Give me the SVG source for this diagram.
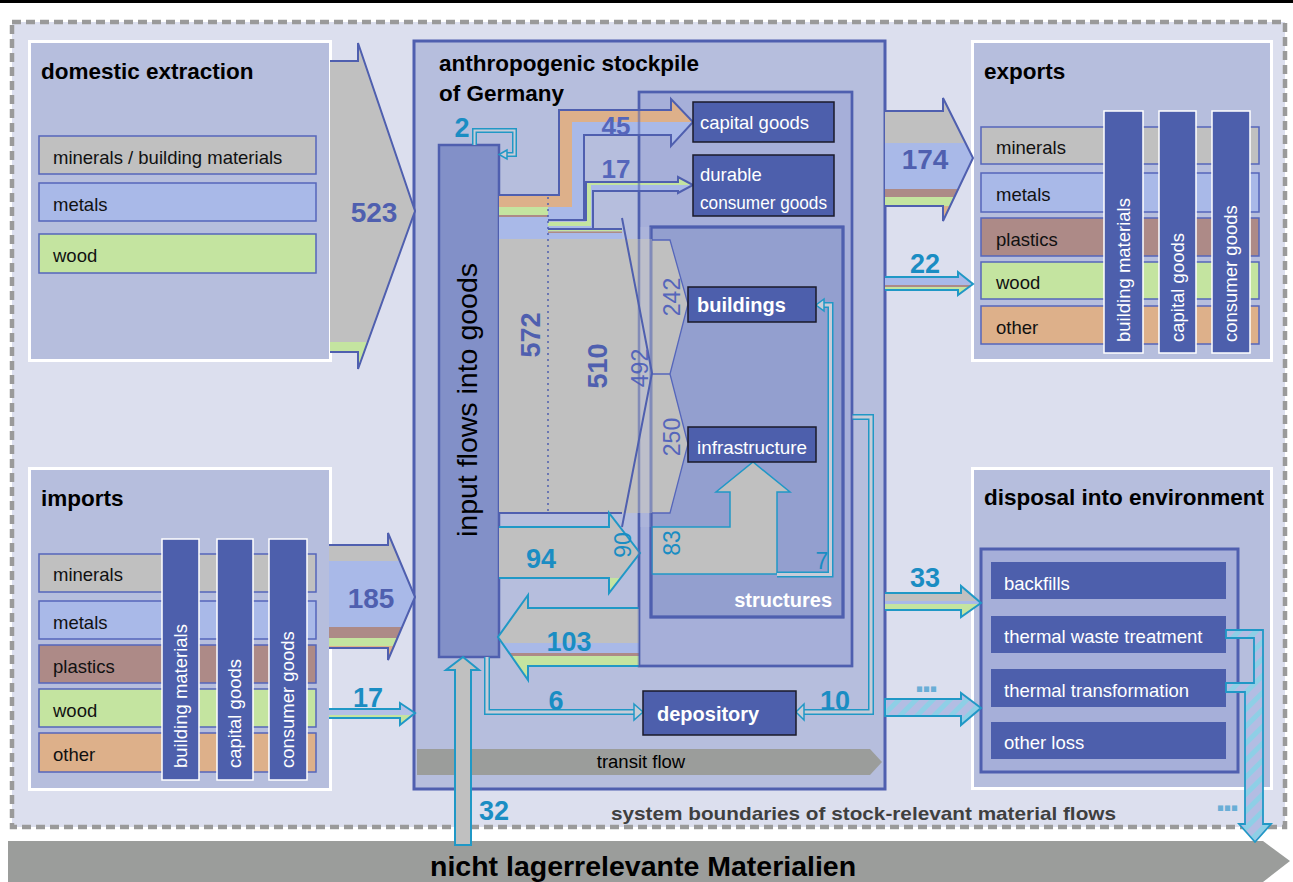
<svg xmlns="http://www.w3.org/2000/svg" width="1293" height="882" viewBox="0 0 1293 882">
<defs>
<style>
text{font-family:"Liberation Sans",Arial,sans-serif}
.title{font-size:22.5px;font-weight:bold;fill:#000}
.row{font-size:18.5px;fill:#111}
.rowbox{stroke:#5566BB;stroke-width:1.5}
.panel{fill:#B6BEDD;stroke:#fff;stroke-width:3}
.gry{fill:#C0C0C0}.blu{fill:#A9B9E8}.grn{fill:#C4E4A0}.brn{fill:#AD8A87}.org{fill:#DDB08A}
.node{fill:#4D5FAC;stroke:#1a1a2a;stroke-width:1.5}
.nodetxt{fill:#fff;font-size:18.5px}
.nodebold{fill:#fff;font-size:20px;font-weight:bold}
.vbar{fill:#4D5FAC;stroke:#fff;stroke-width:1.5}
.vtxt{fill:#fff;font-size:18.5px}
.numb{font-weight:bold;font-size:28px;fill:#4F5FAF;text-anchor:middle}
.numb2{font-weight:bold;font-size:26px;fill:#5566BB;text-anchor:middle}
.numt{font-weight:bold;font-size:27px;fill:#1A8DC3;text-anchor:middle}
.numi{font-size:23px;fill:#5566BB;text-anchor:middle}
.numti{font-size:23px;fill:#1A8DC3;text-anchor:middle}
.bout{fill:none;stroke:#4F5FAF;stroke-width:2;stroke-linejoin:miter}
.bthin{fill:none;stroke:#5566BB;stroke-width:1.3}
.tout{fill:none;stroke:#2098C6;stroke-width:2}
.dl1{fill:none;stroke:#2098C6;stroke-width:6}
.dl2{fill:none;stroke:#C8CCD8;stroke-width:3}
.dl1s{fill:none;stroke:#2098C6;stroke-width:5}
.dl2s{fill:none;stroke:#C8CCD8;stroke-width:2}
.ahead{fill:#C8CCD8;stroke:#2098C6;stroke-width:1.5}
.dots{font-weight:bold;font-size:36px;fill:#6AAED6;letter-spacing:-3px;text-anchor:middle}
</style>
<pattern id="hatch" patternUnits="userSpaceOnUse" width="12" height="12" patternTransform="rotate(45)">
<rect width="12" height="12" fill="#B3BDE3"/>
<rect width="5" height="12" fill="#8ECFE6"/>
</pattern>
<clipPath id="c523"><path d="M330,61 H358 V43 L415,211 L358,369 V352 H330 Z"/></clipPath>
<clipPath id="c185"><path d="M329,545 H388 V533 L415,597 L388,660 V648 H329 Z"/></clipPath>
<clipPath id="c17i"><path d="M329,709 H400 V703 L415,713 L400,725 V718 H329 Z"/></clipPath>
<clipPath id="c174"><path d="M885,111 H943 V98 L973,158 L943,221 V206 H885 Z"/></clipPath>
<clipPath id="c22"><path d="M885,277 H958 V272 L973,284 L958,295 V290 H885 Z"/></clipPath>
<clipPath id="c33"><path d="M885,593 H961 V586 L981,603 L961,617 V610 H885 Z"/></clipPath>
<clipPath id="c94"><path d="M499,527 H609 V513 L640,553 L609,593 V578 H499 Z"/></clipPath>
<clipPath id="c103"><path d="M639,608 H528 V595 L498,637 L528,680 V666 H639 Z"/></clipPath>
</defs>

<rect width="1293" height="882" fill="#fff"/>
<rect x="0" y="0" width="1293" height="3" fill="#000"/>

<g id="system-boundary">
<rect x="12" y="22" width="1273" height="805" fill="#DCDFEE" stroke="#9A9A9A" stroke-width="4.5" stroke-dasharray="9,5"/>
<text x="611" y="820" font-size="19" font-weight="bold" fill="#3F3F3F" textLength="505" lengthAdjust="spacingAndGlyphs">system boundaries of stock-relevant material flows</text>
</g>

<g id="non-stock-materials">
<path d="M8,841 H1263 L1290,861 L1263,882 H8 Z" fill="#9B9D9B"/>
<text x="430" y="876" font-size="28.5" font-weight="bold" fill="#000">nicht lagerrelevante Materialien</text>
</g>

<g id="domestic-extraction">
<rect class="panel" x="29.5" y="41.5" width="301" height="319"/>
<text class="title" x="41" y="79">domestic extraction</text>
<rect class="gry rowbox" x="39" y="136" width="277" height="38"/>
<text class="row" x="53" y="164">minerals / building materials</text>
<rect class="blu rowbox" x="39" y="183" width="277" height="38"/>
<text class="row" x="53" y="211">metals</text>
<rect class="grn rowbox" x="39" y="234" width="277" height="39"/>
<text class="row" x="53" y="262">wood</text>
</g>

<g id="imports">
<rect class="panel" x="29.5" y="468.5" width="301" height="321"/>
<text class="title" x="41" y="506">imports</text>
<rect class="gry rowbox" x="39" y="554" width="277" height="38"/>
<text class="row" x="53" y="581">minerals</text>
<rect class="blu rowbox" x="39" y="601" width="277" height="38"/>
<text class="row" x="53" y="629">metals</text>
<rect class="brn rowbox" x="39" y="645" width="277" height="38"/>
<text class="row" x="53" y="673">plastics</text>
<rect class="grn rowbox" x="39" y="689" width="277" height="38"/>
<text class="row" x="53" y="717">wood</text>
<rect class="org rowbox" x="39" y="733" width="277" height="39"/>
<text class="row" x="53" y="761">other</text>
<rect class="vbar" x="162" y="539" width="37" height="241"/>
<text class="vtxt" transform="translate(187,768) rotate(-90)">building materials</text>
<rect class="vbar" x="217" y="539" width="36" height="241"/>
<text class="vtxt" transform="translate(241,768) rotate(-90)">capital goods</text>
<rect class="vbar" x="269" y="539" width="38" height="241"/>
<text class="vtxt" transform="translate(294,768) rotate(-90)">consumer goods</text>
</g>

<g id="exports">
<rect class="panel" x="972.5" y="41.5" width="299" height="319"/>
<text class="title" x="984" y="79">exports</text>
<rect class="gry rowbox" x="981" y="127" width="278" height="37"/>
<text class="row" x="996" y="154">minerals</text>
<rect class="blu rowbox" x="981" y="173" width="278" height="39"/>
<text class="row" x="996" y="201">metals</text>
<rect class="brn rowbox" x="981" y="218" width="278" height="38"/>
<text class="row" x="996" y="246">plastics</text>
<rect class="grn rowbox" x="981" y="262" width="278" height="37"/>
<text class="row" x="996" y="289">wood</text>
<rect class="org rowbox" x="981" y="306" width="278" height="38"/>
<text class="row" x="996" y="334">other</text>
<rect class="vbar" x="1104" y="111" width="39" height="242"/>
<text class="vtxt" transform="translate(1130,342) rotate(-90)">building materials</text>
<rect class="vbar" x="1159" y="111" width="37" height="242"/>
<text class="vtxt" transform="translate(1184,342) rotate(-90)">capital goods</text>
<rect class="vbar" x="1212" y="111" width="38" height="242"/>
<text class="vtxt" transform="translate(1237,342) rotate(-90)">consumer goods</text>
</g>

<g id="disposal">
<rect class="panel" x="972.5" y="468.5" width="299" height="320"/>
<text class="title" x="984" y="505">disposal into environment</text>
<rect x="981" y="549" width="257" height="223" fill="#A6AFD9" stroke="#4F5FAF" stroke-width="3"/>
<rect x="991" y="562" width="235" height="37" fill="#4D5FAC"/>
<text class="nodetxt" x="1004" y="590">backfills</text>
<rect x="991" y="616" width="235" height="37" fill="#4D5FAC"/>
<text class="nodetxt" x="1004" y="643">thermal waste treatment</text>
<rect x="991" y="669" width="235" height="38" fill="#4D5FAC"/>
<text class="nodetxt" x="1004" y="697">thermal transformation</text>
<rect x="991" y="722" width="235" height="37" fill="#4D5FAC"/>
<text class="nodetxt" x="1004" y="749">other loss</text>
</g>

<g id="stockpile">
<rect x="414" y="41" width="471" height="748" fill="#B6BEDD" stroke="#4F5FAF" stroke-width="3"/>
<text class="title" x="439" y="71">anthropogenic stockpile</text>
<text class="title" x="439" y="101">of Germany</text>
</g>

<g id="goods-stock">
<rect x="639" y="92" width="213" height="574" fill="#A6AFD9" stroke="#4F5FAF" stroke-width="2.5"/>
</g>

<g id="structures">
<rect x="651" y="227" width="192" height="390" fill="#939FCF" stroke="#4F5FAF" stroke-width="3"/>
<text class="nodebold" x="832" y="607" text-anchor="end">structures</text>
</g>

<g id="transit-flow">
<path d="M417,749 H870 L882,762 L870,775 H417 Z" fill="#9B9D9B"/>
<text x="641" y="768" font-size="18.5" fill="#000" text-anchor="middle">transit flow</text>
</g>

<g id="input-flows">
<rect x="439" y="145" width="60" height="512" fill="#8290C8" stroke="#4F5FAF" stroke-width="2.5"/>
<text transform="translate(477,400) rotate(-90)" font-size="28.5" fill="#000" text-anchor="middle">input flows into goods</text>
</g>

<g id="connectors">
<g clip-path="url(#c523)"><rect x="328" y="40" width="90" height="302" class="gry"/><rect x="328" y="342" width="90" height="30" class="grn"/></g>
<path class="bout" d="M330,61 H358 V43 L415,211 L358,369 V352 H330"/>
<text class="numb" x="374" y="222">523</text>

<g clip-path="url(#c185)"><rect x="328" y="530" width="90" height="31" class="gry"/><rect x="328" y="561" width="90" height="66" class="blu"/><rect x="328" y="627" width="90" height="11" class="brn"/><rect x="328" y="638" width="90" height="8" class="grn"/><rect x="328" y="646" width="90" height="16" class="org"/></g>
<path class="bout" d="M329,545 H388 V533 L415,597 L388,660 V648 H329"/>
<text class="numb" x="371" y="608">185</text>

<g clip-path="url(#c17i)"><rect x="328" y="700" width="90" height="15" fill="#B4C0E6"/><rect x="328" y="715" width="90" height="12" class="grn"/></g>
<path class="tout" d="M329,709 H400 V703 L415,713 L400,725 V718 H329"/>
<text class="numt" x="368" y="707">17</text>

<g clip-path="url(#c174)"><rect x="884" y="95" width="92" height="48" class="gry"/><rect x="884" y="143" width="92" height="46" class="blu"/><rect x="884" y="189" width="92" height="8" class="brn"/><rect x="884" y="197" width="92" height="9" class="grn"/><rect x="884" y="206" width="92" height="18" class="org"/></g>
<path class="bout" d="M885,111 H943 V98 L973,158 L943,221 V206 H885"/>
<text class="numb" x="925" y="169">174</text>

<g clip-path="url(#c22)"><rect x="884" y="270" width="92" height="15" class="blu"/><rect x="884" y="285" width="92" height="2" class="brn"/><rect x="884" y="287" width="92" height="10" class="grn"/></g>
<path class="tout" d="M885,277 H958 V272 L973,284 L958,295 V290 H885"/>
<text class="numt" x="925" y="273">22</text>

<g clip-path="url(#c33)"><rect x="884" y="584" width="100" height="17" class="gry"/><rect x="884" y="601" width="100" height="3" class="blu"/><rect x="884" y="604" width="100" height="16" class="grn"/></g>
<path class="tout" d="M885,593 H961 V586 L981,603 L961,617 V610 H885"/>
<text class="numt" x="925" y="587">33</text>

<path d="M885,699 H961 V693 L981,708 L961,725 V716 H885 Z" fill="url(#hatch)" stroke="#2098C6" stroke-width="2"/>
<text class="dots" x="925" y="692">...</text>

<path d="M1226,630 H1263 V824 H1271 L1255,842 L1239,824 H1245 V692 H1226 V683 H1254 V638 H1226 Z" fill="url(#hatch)" stroke="#2098C6" stroke-width="1.8"/>
<text class="dots" x="1226" y="811">...</text>

<rect x="499" y="195" width="60" height="12" class="org"/>
<rect x="499" y="207" width="49" height="8" class="grn"/>
<rect x="499" y="215" width="49" height="2" class="brn"/>
<rect x="499" y="217" width="49" height="22" class="blu"/>
<rect x="548" y="229" width="74" height="2.5" class="grn"/>
<rect x="548" y="231.5" width="74" height="1.5" class="brn"/>
<rect x="548" y="233" width="74" height="6" class="blu"/>

<path class="org" d="M499,195 H559 V110 H671 V99 L693,122 H572 V207 H499 Z"/>
<path class="blu" d="M548,207 H572 V122 H693 L671,146 V135 H584 V220 H548 Z"/>
<path class="bout" d="M499,195 H559 V110 H671 V99 L693,122 L671,146 V135 H584 V220 H548"/>
<text class="numb2" x="616" y="135">45</text>

<path class="grn" d="M548,222 H586 V182 H678 V177 L693,185 H591 V226 H548 Z"/>
<path class="blu" d="M548,226 H591 V185 H693 L678,193 V191 H593 V229 H548 Z"/>
<path class="bout" d="M586,221 V182 H678 V177 L693,185 L678,193 V191 H593 V229 H548"/>
<text class="numb2" x="616" y="178">17</text>

<rect x="499" y="239" width="153" height="274" class="gry"/>
<path class="gry" d="M652,240 H670 L688,304 L670,374 H652 Z"/>
<path class="gry" d="M652,374 H670 L688,444 L670,513 H652 Z"/>
<rect x="640" y="227" width="11" height="300" fill="#B6BEDD" opacity="0.35"/>
<path class="bthin" d="M652,240 H670 L688,304 L670,374 H652 M670,374 L688,444 L670,513 H652"/>
<path class="bout" d="M548,229 H622 M622,218 L652,373 L622,527 M499,513 H622"/>
<line x1="548" y1="197" x2="548" y2="511" stroke="#4F5FAF" stroke-width="1.5" stroke-dasharray="2,4"/>
<text class="numb" transform="translate(540,335) rotate(-90)" font-size="30" textLength="45" lengthAdjust="spacingAndGlyphs">572</text>
<text class="numb" transform="translate(607,366) rotate(-90)" font-size="30" textLength="45" lengthAdjust="spacingAndGlyphs">510</text>
<text class="numi" transform="translate(648,368) rotate(-90)">492</text>
<text class="numi" transform="translate(680,297) rotate(-90)">242</text>
<text class="numi" transform="translate(680,437) rotate(-90)">250</text>

<g clip-path="url(#c94)"><rect x="498" y="510" width="145" height="68" class="gry"/><rect x="498" y="578" width="145" height="18" class="grn"/></g>
<path class="tout" d="M499,527 H609 V513 L640,553 L609,593 V578 H499"/>
<text class="numt" x="541" y="568">94</text>
<text class="numti" transform="translate(631,545) rotate(-90)">90</text>

<path d="M652,527 H730 V492 H716 L753,462 L790,492 H777 V574 H652 Z" fill="#C0C0C0" stroke="#2098C6" stroke-width="1.5"/>
<text class="numti" transform="translate(680,543) rotate(-90)">83</text>

<path class="dl1" d="M777,574.5 H830.5 V305 H823"/>
<path class="dl2" d="M777,574.5 H830.5 V305 H823"/>
<polygon class="ahead" points="824,299 816,305 824,311"/>
<text class="numti" x="822" y="569">7</text>

<g clip-path="url(#c103)"><rect x="495" y="592" width="146" height="51" class="gry"/><rect x="495" y="643" width="146" height="10" class="blu"/><rect x="495" y="653" width="146" height="3" class="brn"/><rect x="495" y="656" width="146" height="27" class="grn"/></g>
<path class="tout" d="M639,608 H528 V595 L498,637 L528,680 V666 H639"/>
<text class="numt" x="569" y="651">103</text>

<path class="dl1s" d="M474.5,145 V130.5 H514.5 V154.5 H506"/>
<path class="dl2s" d="M474.5,145 V130.5 H514.5 V154.5 H506"/>
<polygon class="ahead" points="507,150 499,154.5 507,159"/>
<text class="numt" x="462" y="137">2</text>

<path class="dl1" d="M487,657 V712 H636"/>
<path class="dl2" d="M487,657 V712 H636"/>
<polygon class="ahead" points="634,704 643,712 634,720"/>
<text class="numt" x="556" y="710">6</text>

<path class="dl1" d="M852,417 H871 V712 H803"/>
<path class="dl2" d="M852,417 H871 V712 H803"/>
<polygon class="ahead" points="804,704 796,712 804,720"/>
<text class="numt" x="835" y="710">10</text>

<path d="M455,845 V670 H446 L463,657 L479,670 H471 V845 Z" fill="#C0C0C0" stroke="#2098C6" stroke-width="2"/>
<text class="numt" x="494" y="820">32</text>
</g>

<g id="box-overlays">
<rect x="639" y="92" width="213" height="574" fill="none" stroke="#4F5FAF" stroke-width="2.5" opacity="0.55"/>
<rect x="651" y="227" width="192" height="390" fill="none" stroke="#4F5FAF" stroke-width="3" opacity="0.55"/>
</g>

<g id="capital-goods">
<rect class="node" x="693" y="102" width="141" height="40"/>
<text class="nodetxt" x="700" y="129">capital goods</text>
</g>

<g id="durable-consumer-goods">
<rect class="node" x="693" y="155" width="141" height="61"/>
<text class="nodetxt" x="700" y="181">durable</text>
<text class="nodetxt" x="700" y="209" textLength="127" lengthAdjust="spacingAndGlyphs">consumer goods</text>
</g>

<g id="buildings">
<rect class="node" x="688" y="287" width="128" height="35"/>
<text class="nodebold" x="697" y="312">buildings</text>
</g>

<g id="infrastructure">
<rect class="node" x="688" y="427" width="128" height="35"/>
<text class="nodetxt" x="697" y="454" textLength="110" lengthAdjust="spacingAndGlyphs">infrastructure</text>
</g>

<g id="depository">
<rect class="node" x="643" y="691" width="153" height="44"/>
<text class="nodebold" x="657" y="721">depository</text>
</g>
</svg>
